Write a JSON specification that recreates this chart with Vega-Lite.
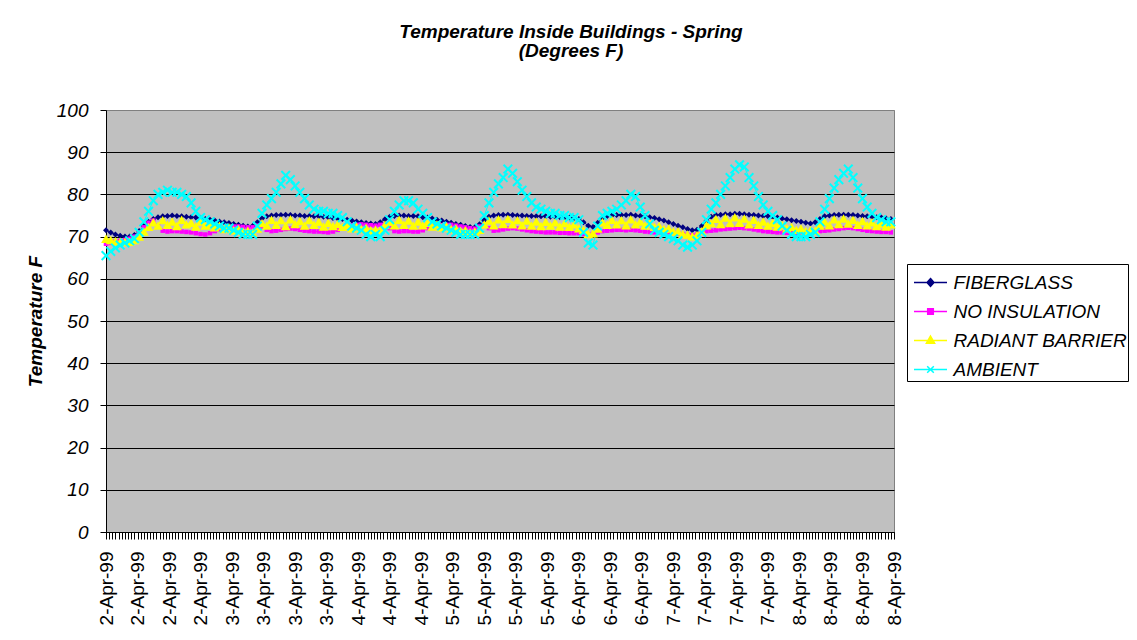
{
  "$schema": "https://vega.github.io/schema/vega-lite/v6.json",
  "width": 788,
  "height": 422,
  "autosize": {"type": "none"},
  "padding": {"left": 106, "top": 110, "right": 243, "bottom": 108},
  "background": "white",
  "title": {
    "text": ["Temperature Inside Buildings - Spring", "(Degrees F)"],
    "anchor": "middle",
    "frame": "group",
    "dx": 71,
    "offset": 40,
    "font": "Liberation Sans",
    "fontSize": 19,
    "fontStyle": "italic",
    "fontWeight": "bold",
    "color": "black",
    "lineHeight": 19
  },
  "data": {
    "values": [
      {"step":0,"FIBERGLASS":71.5,"NO INSULATION":68.3,"RADIANT BARRIER":69.5,"AMBIENT":65.5},
      {"step":3,"FIBERGLASS":71.0,"NO INSULATION":68.5,"RADIANT BARRIER":69.2,"AMBIENT":66.5},
      {"step":6,"FIBERGLASS":70.5,"NO INSULATION":68.8,"RADIANT BARRIER":68.9,"AMBIENT":67.3},
      {"step":9,"FIBERGLASS":70.2,"NO INSULATION":69.0,"RADIANT BARRIER":68.8,"AMBIENT":68.0},
      {"step":12,"FIBERGLASS":70.0,"NO INSULATION":69.2,"RADIANT BARRIER":68.7,"AMBIENT":68.5},
      {"step":15,"FIBERGLASS":70.0,"NO INSULATION":69.5,"RADIANT BARRIER":68.8,"AMBIENT":69.0},
      {"step":18,"FIBERGLASS":70.4,"NO INSULATION":70.0,"RADIANT BARRIER":69.2,"AMBIENT":69.5},
      {"step":21,"FIBERGLASS":71.3,"NO INSULATION":71.0,"RADIANT BARRIER":70.0,"AMBIENT":71.0},
      {"step":24,"FIBERGLASS":72.5,"NO INSULATION":72.2,"RADIANT BARRIER":71.2,"AMBIENT":73.5},
      {"step":27,"FIBERGLASS":73.5,"NO INSULATION":73.3,"RADIANT BARRIER":72.3,"AMBIENT":76.0},
      {"step":30,"FIBERGLASS":74.2,"NO INSULATION":73.8,"RADIANT BARRIER":73.4,"AMBIENT":78.5},
      {"step":33,"FIBERGLASS":74.6,"NO INSULATION":72.5,"RADIANT BARRIER":72.6,"AMBIENT":80.0},
      {"step":36,"FIBERGLASS":74.8,"NO INSULATION":71.4,"RADIANT BARRIER":73.9,"AMBIENT":80.5},
      {"step":39,"FIBERGLASS":74.9,"NO INSULATION":71.2,"RADIANT BARRIER":72.8,"AMBIENT":81.0},
      {"step":42,"FIBERGLASS":75.0,"NO INSULATION":71.3,"RADIANT BARRIER":73.6,"AMBIENT":80.5},
      {"step":45,"FIBERGLASS":74.9,"NO INSULATION":71.3,"RADIANT BARRIER":72.5,"AMBIENT":80.5},
      {"step":48,"FIBERGLASS":74.8,"NO INSULATION":71.2,"RADIANT BARRIER":74.0,"AMBIENT":80.0},
      {"step":51,"FIBERGLASS":74.7,"NO INSULATION":71.1,"RADIANT BARRIER":72.9,"AMBIENT":79.5},
      {"step":54,"FIBERGLASS":74.6,"NO INSULATION":71.0,"RADIANT BARRIER":73.3,"AMBIENT":78.0},
      {"step":57,"FIBERGLASS":74.5,"NO INSULATION":70.8,"RADIANT BARRIER":72.4,"AMBIENT":76.0},
      {"step":60,"FIBERGLASS":74.3,"NO INSULATION":70.6,"RADIANT BARRIER":73.6,"AMBIENT":74.5},
      {"step":63,"FIBERGLASS":74.2,"NO INSULATION":70.5,"RADIANT BARRIER":72.6,"AMBIENT":74.0},
      {"step":66,"FIBERGLASS":74.0,"NO INSULATION":70.8,"RADIANT BARRIER":72.9,"AMBIENT":73.5},
      {"step":69,"FIBERGLASS":73.8,"NO INSULATION":71.3,"RADIANT BARRIER":72.2,"AMBIENT":73.0},
      {"step":72,"FIBERGLASS":73.6,"NO INSULATION":71.7,"RADIANT BARRIER":72.6,"AMBIENT":72.5},
      {"step":75,"FIBERGLASS":73.4,"NO INSULATION":72.0,"RADIANT BARRIER":71.8,"AMBIENT":72.0},
      {"step":78,"FIBERGLASS":73.2,"NO INSULATION":72.2,"RADIANT BARRIER":72.2,"AMBIENT":72.0},
      {"step":81,"FIBERGLASS":73.0,"NO INSULATION":72.4,"RADIANT BARRIER":71.5,"AMBIENT":71.5},
      {"step":84,"FIBERGLASS":72.8,"NO INSULATION":72.4,"RADIANT BARRIER":71.8,"AMBIENT":71.0},
      {"step":87,"FIBERGLASS":72.6,"NO INSULATION":72.3,"RADIANT BARRIER":71.2,"AMBIENT":70.5},
      {"step":90,"FIBERGLASS":72.4,"NO INSULATION":72.2,"RADIANT BARRIER":71.4,"AMBIENT":70.5},
      {"step":93,"FIBERGLASS":72.5,"NO INSULATION":72.2,"RADIANT BARRIER":71.0,"AMBIENT":70.5},
      {"step":96,"FIBERGLASS":73.4,"NO INSULATION":72.6,"RADIANT BARRIER":71.9,"AMBIENT":72.5},
      {"step":99,"FIBERGLASS":74.3,"NO INSULATION":72.4,"RADIANT BARRIER":73.2,"AMBIENT":75.5},
      {"step":102,"FIBERGLASS":74.8,"NO INSULATION":71.6,"RADIANT BARRIER":72.6,"AMBIENT":77.5},
      {"step":105,"FIBERGLASS":75.0,"NO INSULATION":71.3,"RADIANT BARRIER":74.0,"AMBIENT":79.0},
      {"step":108,"FIBERGLASS":75.1,"NO INSULATION":71.4,"RADIANT BARRIER":72.8,"AMBIENT":80.5},
      {"step":111,"FIBERGLASS":75.1,"NO INSULATION":71.6,"RADIANT BARRIER":73.9,"AMBIENT":82.5},
      {"step":114,"FIBERGLASS":75.2,"NO INSULATION":71.8,"RADIANT BARRIER":72.5,"AMBIENT":84.5},
      {"step":117,"FIBERGLASS":75.1,"NO INSULATION":71.9,"RADIANT BARRIER":74.1,"AMBIENT":83.5},
      {"step":120,"FIBERGLASS":75.0,"NO INSULATION":71.8,"RADIANT BARRIER":73.0,"AMBIENT":82.0},
      {"step":123,"FIBERGLASS":75.0,"NO INSULATION":71.6,"RADIANT BARRIER":73.7,"AMBIENT":80.5},
      {"step":126,"FIBERGLASS":74.9,"NO INSULATION":71.4,"RADIANT BARRIER":72.6,"AMBIENT":79.0},
      {"step":129,"FIBERGLASS":74.9,"NO INSULATION":71.3,"RADIANT BARRIER":73.9,"AMBIENT":77.5},
      {"step":132,"FIBERGLASS":74.8,"NO INSULATION":71.2,"RADIANT BARRIER":72.8,"AMBIENT":76.5},
      {"step":135,"FIBERGLASS":74.8,"NO INSULATION":71.2,"RADIANT BARRIER":73.5,"AMBIENT":76.0},
      {"step":138,"FIBERGLASS":74.7,"NO INSULATION":71.1,"RADIANT BARRIER":72.4,"AMBIENT":76.0},
      {"step":141,"FIBERGLASS":74.6,"NO INSULATION":71.0,"RADIANT BARRIER":73.3,"AMBIENT":75.5},
      {"step":144,"FIBERGLASS":74.4,"NO INSULATION":71.2,"RADIANT BARRIER":72.5,"AMBIENT":75.5},
      {"step":147,"FIBERGLASS":74.3,"NO INSULATION":71.6,"RADIANT BARRIER":73.0,"AMBIENT":75.0},
      {"step":150,"FIBERGLASS":74.2,"NO INSULATION":72.0,"RADIANT BARRIER":72.3,"AMBIENT":74.5},
      {"step":153,"FIBERGLASS":74.0,"NO INSULATION":72.4,"RADIANT BARRIER":72.8,"AMBIENT":73.5},
      {"step":156,"FIBERGLASS":73.8,"NO INSULATION":72.6,"RADIANT BARRIER":72.0,"AMBIENT":72.5},
      {"step":159,"FIBERGLASS":73.6,"NO INSULATION":72.8,"RADIANT BARRIER":72.4,"AMBIENT":72.0},
      {"step":162,"FIBERGLASS":73.4,"NO INSULATION":72.9,"RADIANT BARRIER":71.8,"AMBIENT":71.5},
      {"step":165,"FIBERGLASS":73.2,"NO INSULATION":72.8,"RADIANT BARRIER":72.1,"AMBIENT":70.5},
      {"step":168,"FIBERGLASS":73.1,"NO INSULATION":72.7,"RADIANT BARRIER":71.5,"AMBIENT":70.0},
      {"step":171,"FIBERGLASS":73.0,"NO INSULATION":72.6,"RADIANT BARRIER":71.7,"AMBIENT":70.5},
      {"step":174,"FIBERGLASS":73.4,"NO INSULATION":72.8,"RADIANT BARRIER":71.6,"AMBIENT":70.0},
      {"step":177,"FIBERGLASS":74.1,"NO INSULATION":72.8,"RADIANT BARRIER":72.8,"AMBIENT":71.5},
      {"step":180,"FIBERGLASS":74.7,"NO INSULATION":72.0,"RADIANT BARRIER":73.5,"AMBIENT":74.0},
      {"step":183,"FIBERGLASS":74.9,"NO INSULATION":71.3,"RADIANT BARRIER":72.7,"AMBIENT":76.0},
      {"step":186,"FIBERGLASS":75.0,"NO INSULATION":71.2,"RADIANT BARRIER":74.0,"AMBIENT":77.5},
      {"step":189,"FIBERGLASS":75.0,"NO INSULATION":71.3,"RADIANT BARRIER":72.8,"AMBIENT":78.5},
      {"step":192,"FIBERGLASS":74.9,"NO INSULATION":71.3,"RADIANT BARRIER":73.8,"AMBIENT":78.5},
      {"step":195,"FIBERGLASS":74.9,"NO INSULATION":71.2,"RADIANT BARRIER":72.6,"AMBIENT":78.0},
      {"step":198,"FIBERGLASS":74.8,"NO INSULATION":71.2,"RADIANT BARRIER":73.6,"AMBIENT":76.5},
      {"step":201,"FIBERGLASS":74.6,"NO INSULATION":71.5,"RADIANT BARRIER":72.7,"AMBIENT":75.5},
      {"step":204,"FIBERGLASS":74.5,"NO INSULATION":72.0,"RADIANT BARRIER":73.3,"AMBIENT":74.5},
      {"step":207,"FIBERGLASS":74.3,"NO INSULATION":72.4,"RADIANT BARRIER":72.4,"AMBIENT":73.5},
      {"step":210,"FIBERGLASS":74.0,"NO INSULATION":72.6,"RADIANT BARRIER":72.9,"AMBIENT":73.0},
      {"step":213,"FIBERGLASS":73.8,"NO INSULATION":72.7,"RADIANT BARRIER":72.2,"AMBIENT":72.5},
      {"step":216,"FIBERGLASS":73.5,"NO INSULATION":72.8,"RADIANT BARRIER":72.5,"AMBIENT":72.0},
      {"step":219,"FIBERGLASS":73.3,"NO INSULATION":72.8,"RADIANT BARRIER":71.8,"AMBIENT":71.5},
      {"step":222,"FIBERGLASS":73.0,"NO INSULATION":72.6,"RADIANT BARRIER":72.0,"AMBIENT":71.0},
      {"step":225,"FIBERGLASS":72.8,"NO INSULATION":72.4,"RADIANT BARRIER":71.4,"AMBIENT":70.5},
      {"step":228,"FIBERGLASS":72.5,"NO INSULATION":72.2,"RADIANT BARRIER":71.5,"AMBIENT":70.5},
      {"step":231,"FIBERGLASS":72.3,"NO INSULATION":72.0,"RADIANT BARRIER":71.0,"AMBIENT":70.5},
      {"step":234,"FIBERGLASS":72.2,"NO INSULATION":71.9,"RADIANT BARRIER":71.2,"AMBIENT":70.5},
      {"step":237,"FIBERGLASS":72.9,"NO INSULATION":72.4,"RADIANT BARRIER":71.6,"AMBIENT":72.0},
      {"step":240,"FIBERGLASS":73.9,"NO INSULATION":72.8,"RADIANT BARRIER":72.9,"AMBIENT":75.0},
      {"step":243,"FIBERGLASS":74.7,"NO INSULATION":72.0,"RADIANT BARRIER":73.8,"AMBIENT":78.0},
      {"step":246,"FIBERGLASS":75.0,"NO INSULATION":71.4,"RADIANT BARRIER":72.7,"AMBIENT":80.5},
      {"step":249,"FIBERGLASS":75.1,"NO INSULATION":71.5,"RADIANT BARRIER":74.1,"AMBIENT":82.5},
      {"step":252,"FIBERGLASS":75.2,"NO INSULATION":71.7,"RADIANT BARRIER":73.0,"AMBIENT":84.0},
      {"step":255,"FIBERGLASS":75.2,"NO INSULATION":71.9,"RADIANT BARRIER":74.2,"AMBIENT":86.0},
      {"step":258,"FIBERGLASS":75.1,"NO INSULATION":72.0,"RADIANT BARRIER":72.9,"AMBIENT":85.0},
      {"step":261,"FIBERGLASS":75.0,"NO INSULATION":71.9,"RADIANT BARRIER":73.9,"AMBIENT":83.0},
      {"step":264,"FIBERGLASS":75.0,"NO INSULATION":71.7,"RADIANT BARRIER":72.7,"AMBIENT":81.0},
      {"step":267,"FIBERGLASS":74.9,"NO INSULATION":71.5,"RADIANT BARRIER":73.8,"AMBIENT":79.5},
      {"step":270,"FIBERGLASS":74.9,"NO INSULATION":71.3,"RADIANT BARRIER":72.6,"AMBIENT":78.0},
      {"step":273,"FIBERGLASS":74.8,"NO INSULATION":71.2,"RADIANT BARRIER":73.6,"AMBIENT":77.0},
      {"step":276,"FIBERGLASS":74.8,"NO INSULATION":71.1,"RADIANT BARRIER":72.5,"AMBIENT":76.5},
      {"step":279,"FIBERGLASS":74.8,"NO INSULATION":71.0,"RADIANT BARRIER":73.5,"AMBIENT":76.0},
      {"step":282,"FIBERGLASS":74.7,"NO INSULATION":71.0,"RADIANT BARRIER":72.6,"AMBIENT":75.5},
      {"step":285,"FIBERGLASS":74.7,"NO INSULATION":71.0,"RADIANT BARRIER":73.4,"AMBIENT":75.5},
      {"step":288,"FIBERGLASS":74.6,"NO INSULATION":70.9,"RADIANT BARRIER":72.4,"AMBIENT":75.0},
      {"step":291,"FIBERGLASS":74.6,"NO INSULATION":70.9,"RADIANT BARRIER":73.2,"AMBIENT":75.0},
      {"step":294,"FIBERGLASS":74.5,"NO INSULATION":70.8,"RADIANT BARRIER":72.3,"AMBIENT":74.5},
      {"step":297,"FIBERGLASS":74.4,"NO INSULATION":70.8,"RADIANT BARRIER":72.9,"AMBIENT":74.5},
      {"step":300,"FIBERGLASS":74.2,"NO INSULATION":70.8,"RADIANT BARRIER":72.0,"AMBIENT":74.0},
      {"step":303,"FIBERGLASS":73.4,"NO INSULATION":70.6,"RADIANT BARRIER":71.6,"AMBIENT":71.0},
      {"step":306,"FIBERGLASS":72.6,"NO INSULATION":70.5,"RADIANT BARRIER":70.6,"AMBIENT":68.5},
      {"step":309,"FIBERGLASS":72.3,"NO INSULATION":70.6,"RADIANT BARRIER":70.8,"AMBIENT":68.0},
      {"step":312,"FIBERGLASS":73.3,"NO INSULATION":71.0,"RADIANT BARRIER":71.9,"AMBIENT":72.5},
      {"step":315,"FIBERGLASS":74.4,"NO INSULATION":71.3,"RADIANT BARRIER":73.4,"AMBIENT":75.0},
      {"step":318,"FIBERGLASS":74.9,"NO INSULATION":71.4,"RADIANT BARRIER":72.8,"AMBIENT":75.5},
      {"step":321,"FIBERGLASS":75.0,"NO INSULATION":71.5,"RADIANT BARRIER":74.0,"AMBIENT":76.0},
      {"step":324,"FIBERGLASS":75.1,"NO INSULATION":71.6,"RADIANT BARRIER":72.9,"AMBIENT":76.5},
      {"step":327,"FIBERGLASS":75.1,"NO INSULATION":71.6,"RADIANT BARRIER":73.9,"AMBIENT":77.5},
      {"step":330,"FIBERGLASS":75.1,"NO INSULATION":71.5,"RADIANT BARRIER":72.7,"AMBIENT":78.5},
      {"step":333,"FIBERGLASS":75.2,"NO INSULATION":71.6,"RADIANT BARRIER":74.1,"AMBIENT":80.0},
      {"step":336,"FIBERGLASS":75.0,"NO INSULATION":71.5,"RADIANT BARRIER":72.9,"AMBIENT":79.5},
      {"step":339,"FIBERGLASS":74.9,"NO INSULATION":71.4,"RADIANT BARRIER":73.6,"AMBIENT":77.0},
      {"step":342,"FIBERGLASS":74.8,"NO INSULATION":71.2,"RADIANT BARRIER":72.6,"AMBIENT":75.0},
      {"step":345,"FIBERGLASS":74.6,"NO INSULATION":71.1,"RADIANT BARRIER":73.2,"AMBIENT":73.0},
      {"step":348,"FIBERGLASS":74.4,"NO INSULATION":71.0,"RADIANT BARRIER":72.3,"AMBIENT":71.5},
      {"step":351,"FIBERGLASS":74.1,"NO INSULATION":71.0,"RADIANT BARRIER":72.5,"AMBIENT":71.0},
      {"step":354,"FIBERGLASS":73.8,"NO INSULATION":71.0,"RADIANT BARRIER":71.8,"AMBIENT":70.5},
      {"step":357,"FIBERGLASS":73.4,"NO INSULATION":71.0,"RADIANT BARRIER":71.9,"AMBIENT":70.0},
      {"step":360,"FIBERGLASS":73.0,"NO INSULATION":70.9,"RADIANT BARRIER":71.2,"AMBIENT":69.5},
      {"step":363,"FIBERGLASS":72.6,"NO INSULATION":70.8,"RADIANT BARRIER":71.3,"AMBIENT":69.0},
      {"step":366,"FIBERGLASS":72.2,"NO INSULATION":70.6,"RADIANT BARRIER":70.6,"AMBIENT":68.0},
      {"step":369,"FIBERGLASS":71.8,"NO INSULATION":70.4,"RADIANT BARRIER":70.5,"AMBIENT":67.5},
      {"step":372,"FIBERGLASS":71.5,"NO INSULATION":70.3,"RADIANT BARRIER":70.1,"AMBIENT":68.0},
      {"step":375,"FIBERGLASS":71.6,"NO INSULATION":70.5,"RADIANT BARRIER":70.4,"AMBIENT":69.0},
      {"step":378,"FIBERGLASS":72.5,"NO INSULATION":71.0,"RADIANT BARRIER":71.3,"AMBIENT":71.0},
      {"step":381,"FIBERGLASS":73.7,"NO INSULATION":71.3,"RADIANT BARRIER":72.7,"AMBIENT":74.0},
      {"step":384,"FIBERGLASS":74.7,"NO INSULATION":71.4,"RADIANT BARRIER":73.2,"AMBIENT":76.5},
      {"step":387,"FIBERGLASS":75.1,"NO INSULATION":71.5,"RADIANT BARRIER":74.2,"AMBIENT":78.0},
      {"step":390,"FIBERGLASS":75.2,"NO INSULATION":71.7,"RADIANT BARRIER":73.0,"AMBIENT":80.0},
      {"step":393,"FIBERGLASS":75.3,"NO INSULATION":71.8,"RADIANT BARRIER":74.5,"AMBIENT":82.0},
      {"step":396,"FIBERGLASS":75.3,"NO INSULATION":71.9,"RADIANT BARRIER":73.2,"AMBIENT":84.0},
      {"step":399,"FIBERGLASS":75.4,"NO INSULATION":72.0,"RADIANT BARRIER":74.6,"AMBIENT":86.0},
      {"step":402,"FIBERGLASS":75.4,"NO INSULATION":72.1,"RADIANT BARRIER":73.3,"AMBIENT":87.0},
      {"step":405,"FIBERGLASS":75.3,"NO INSULATION":72.0,"RADIANT BARRIER":74.3,"AMBIENT":86.5},
      {"step":408,"FIBERGLASS":75.2,"NO INSULATION":71.9,"RADIANT BARRIER":72.9,"AMBIENT":84.0},
      {"step":411,"FIBERGLASS":75.1,"NO INSULATION":71.7,"RADIANT BARRIER":74.0,"AMBIENT":82.0},
      {"step":414,"FIBERGLASS":75.0,"NO INSULATION":71.5,"RADIANT BARRIER":72.8,"AMBIENT":79.5},
      {"step":417,"FIBERGLASS":74.9,"NO INSULATION":71.3,"RADIANT BARRIER":73.6,"AMBIENT":77.5},
      {"step":420,"FIBERGLASS":74.8,"NO INSULATION":71.2,"RADIANT BARRIER":72.6,"AMBIENT":76.0},
      {"step":423,"FIBERGLASS":74.7,"NO INSULATION":71.1,"RADIANT BARRIER":73.3,"AMBIENT":75.0},
      {"step":426,"FIBERGLASS":74.5,"NO INSULATION":71.0,"RADIANT BARRIER":72.4,"AMBIENT":74.0},
      {"step":429,"FIBERGLASS":74.3,"NO INSULATION":71.0,"RADIANT BARRIER":72.8,"AMBIENT":72.5},
      {"step":432,"FIBERGLASS":74.1,"NO INSULATION":70.9,"RADIANT BARRIER":72.0,"AMBIENT":71.5},
      {"step":435,"FIBERGLASS":73.9,"NO INSULATION":70.9,"RADIANT BARRIER":72.3,"AMBIENT":70.5},
      {"step":438,"FIBERGLASS":73.7,"NO INSULATION":70.9,"RADIANT BARRIER":71.6,"AMBIENT":70.0},
      {"step":441,"FIBERGLASS":73.5,"NO INSULATION":71.0,"RADIANT BARRIER":71.9,"AMBIENT":70.0},
      {"step":444,"FIBERGLASS":73.3,"NO INSULATION":71.0,"RADIANT BARRIER":71.3,"AMBIENT":70.0},
      {"step":447,"FIBERGLASS":73.1,"NO INSULATION":71.1,"RADIANT BARRIER":71.6,"AMBIENT":70.5},
      {"step":450,"FIBERGLASS":73.4,"NO INSULATION":71.2,"RADIANT BARRIER":71.4,"AMBIENT":71.0},
      {"step":453,"FIBERGLASS":74.2,"NO INSULATION":71.3,"RADIANT BARRIER":72.6,"AMBIENT":73.5},
      {"step":456,"FIBERGLASS":74.8,"NO INSULATION":71.4,"RADIANT BARRIER":73.6,"AMBIENT":76.5},
      {"step":459,"FIBERGLASS":75.0,"NO INSULATION":71.5,"RADIANT BARRIER":72.7,"AMBIENT":79.0},
      {"step":462,"FIBERGLASS":75.1,"NO INSULATION":71.7,"RADIANT BARRIER":74.1,"AMBIENT":81.5},
      {"step":465,"FIBERGLASS":75.2,"NO INSULATION":71.8,"RADIANT BARRIER":73.0,"AMBIENT":83.5},
      {"step":468,"FIBERGLASS":75.2,"NO INSULATION":72.0,"RADIANT BARRIER":74.3,"AMBIENT":85.0},
      {"step":471,"FIBERGLASS":75.2,"NO INSULATION":72.1,"RADIANT BARRIER":73.1,"AMBIENT":86.0},
      {"step":474,"FIBERGLASS":75.1,"NO INSULATION":72.0,"RADIANT BARRIER":74.0,"AMBIENT":84.0},
      {"step":477,"FIBERGLASS":75.0,"NO INSULATION":71.8,"RADIANT BARRIER":72.8,"AMBIENT":81.5},
      {"step":480,"FIBERGLASS":74.9,"NO INSULATION":71.6,"RADIANT BARRIER":73.7,"AMBIENT":79.0},
      {"step":483,"FIBERGLASS":74.8,"NO INSULATION":71.4,"RADIANT BARRIER":72.7,"AMBIENT":77.0},
      {"step":486,"FIBERGLASS":74.7,"NO INSULATION":71.3,"RADIANT BARRIER":73.4,"AMBIENT":75.5},
      {"step":489,"FIBERGLASS":74.6,"NO INSULATION":71.2,"RADIANT BARRIER":72.5,"AMBIENT":74.5},
      {"step":492,"FIBERGLASS":74.5,"NO INSULATION":71.1,"RADIANT BARRIER":73.1,"AMBIENT":74.0},
      {"step":495,"FIBERGLASS":74.3,"NO INSULATION":71.1,"RADIANT BARRIER":72.4,"AMBIENT":73.5},
      {"step":498,"FIBERGLASS":74.2,"NO INSULATION":71.0,"RADIANT BARRIER":72.9,"AMBIENT":73.5}
    ]
  },
  "transform": [
    {"fold": ["FIBERGLASS", "NO INSULATION", "RADIANT BARRIER", "AMBIENT"], "as": ["series", "temp"]}
  ],
  "encoding": {
    "x": {
      "field": "step",
      "type": "quantitative",
      "scale": {"domain": [0, 500], "nice": false, "zero": false},
      "axis": {
        "title": null,
        "grid": false,
        "tickCount": 250,
        "tickSize": 7,
        "tickColor": "black",
        "domainColor": "black",
        "labelExpr": "datum.value % 20 === 0 ? (floor(datum.value / 72) + 2) + '-Apr-99' : ''",
        "labelAngle": -90,
        "labelAlign": "right",
        "labelBaseline": "middle",
        "labelOverlap": false,
        "labelBound": false,
        "labelFlush": false,
        "labelPadding": 12,
        "labelFont": "Liberation Sans",
        "labelFontSize": 19,
        "labelColor": "black"
      }
    },
    "y": {
      "field": "temp",
      "type": "quantitative",
      "scale": {"domain": [0, 100], "nice": false, "zero": true},
      "axis": {
        "values": [0, 10, 20, 30, 40, 50, 60, 70, 80, 90, 100],
        "grid": true,
        "gridColor": {"condition": {"test": "datum.value === 100", "value": "#808080"}, "value": "black"},
        "gridOpacity": 1,
        "gridWidth": 1,
        "tickSize": 6,
        "tickColor": "black",
        "domainColor": "black",
        "labelPadding": 12,
        "labelFont": "Liberation Sans",
        "labelFontSize": 19,
        "labelFontStyle": "italic",
        "labelColor": "black",
        "title": "Temperature F",
        "titleFont": "Liberation Sans",
        "titleFontSize": 19,
        "titleFontStyle": "italic",
        "titleFontWeight": "bold",
        "titleColor": "black",
        "titleAngle": -90,
        "titleAlign": "center",
        "titleBaseline": "middle",
        "titleX": -71,
        "titleY": 211
      }
    },
    "color": {
      "field": "series",
      "type": "nominal",
      "scale": {
        "domain": ["FIBERGLASS", "NO INSULATION", "RADIANT BARRIER", "AMBIENT"],
        "range": ["#000080", "#FF00FF", "#FFFF00", "#00FFFF"]
      },
      "legend": {
        "title": null,
        "orient": "none",
        "legendX": 801,
        "legendY": 154,
        "fillColor": "white",
        "strokeColor": "black",
        "padding": 1,
        "rowPadding": 1,
        "symbolSize": 16,
        "symbolOffset": 5,
        "labelOffset": 5.5,
        "labelLimit": 400,
        "labelFont": "Liberation Sans",
        "labelFontSize": 19,
        "labelFontStyle": "italic",
        "labelColor": "black",
        "encode": {
          "symbols": {
            "update": {
              "shape": {"signal": "datum.value === 'FIBERGLASS' ? 'M-1,0L1,0M0,-0.24L0.21,0L0,0.24L-0.21,0Z' : datum.value === 'NO INSULATION' ? 'M-1,0L1,0M-0.17,-0.17L0.17,-0.17L0.17,0.17L-0.17,0.17Z' : datum.value === 'RADIANT BARRIER' ? 'M-1,0L1,0M0,-0.27L0.25,0.17L-0.25,0.17Z' : 'M-1,0L1,0M-0.2,-0.2L0.2,0.2M0.2,-0.2L-0.2,0.2'"},
              "size": {"value": 1089},
              "fill": {"signal": "scale('color', datum.value)"},
              "stroke": {"signal": "scale('color', datum.value)"},
              "strokeWidth": {"value": 1.5},
              "opacity": {"value": 1}
            }
          }
        }
      }
    }
  },
  "layer": [
    {"mark": {"type": "line", "strokeWidth": 1}},
    {
      "transform": [{"filter": "datum.series === 'FIBERGLASS'"}],
      "mark": {"type": "point", "shape": "diamond", "filled": true, "size": 36, "opacity": 1}
    },
    {
      "transform": [{"filter": "datum.series === 'NO INSULATION'"}],
      "mark": {"type": "point", "shape": "square", "filled": true, "size": 20, "opacity": 1}
    },
    {
      "transform": [{"filter": "datum.series === 'RADIANT BARRIER'"}],
      "mark": {"type": "point", "shape": "triangle-up", "filled": true, "size": 95, "opacity": 1}
    },
    {
      "transform": [{"filter": "datum.series === 'AMBIENT'"}],
      "mark": {"type": "point", "shape": "M-1,-1L1,1M1,-1L-1,1", "filled": false, "size": 75, "strokeWidth": 2, "opacity": 1}
    }
  ],
  "config": {
    "view": {"fill": "#C0C0C0", "stroke": "#808080", "strokeWidth": 1}
  }
}
